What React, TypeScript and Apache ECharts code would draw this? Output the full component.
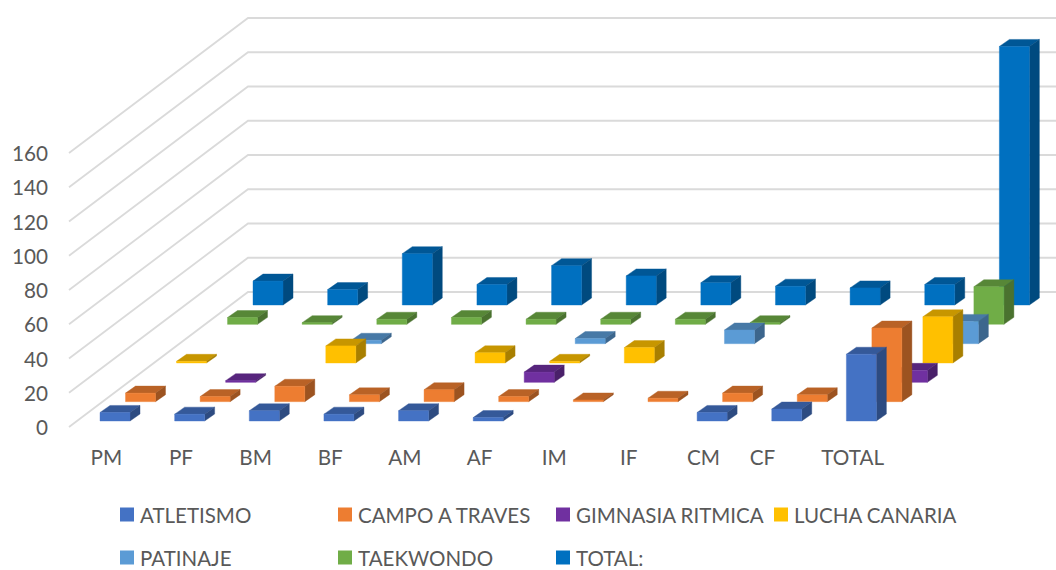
import React, { useEffect, useRef } from "react";
import * as echarts from "echarts";

const categories = ["PM", "PF", "BM", "BF", "AM", "AF", "IM", "IF", "CM", "CF", "TOTAL"];
const valueTicks = [0, 20, 40, 60, 80, 100, 120, 140, 160];

const atletismo = [5, 4, 6, 4, 6, 2, 0, 0, 5, 7, 39];
const campoATraves = [5, 3, 9, 4, 7, 3, 1, 2, 5, 4, 43];
const gimnasiaRitmica = [0, 1, 0, 0, 0, 6, 0, 0, 0, 0, 7];
const luchaCanaria = [1, 0, 10, 0, 6, 1, 9, 0, 0, 0, 27];
const patinaje = [0, 0, 2, 0, 0, 3, 0, 8, 0, 0, 13];
const taekwondo = [4, 1, 3, 4, 3, 3, 3, 1, 0, 0, 22];
const totalSerie = [14, 9, 30, 12, 23, 17, 13, 11, 10, 12, 151];

const seriesNames = ["ATLETISMO", "CAMPO A TRAVES", "GIMNASIA RITMICA", "LUCHA CANARIA", "PATINAJE", "TAEKWONDO", "TOTAL:"];
const seriesValues = [atletismo, campoATraves, gimnasiaRitmica, luchaCanaria, patinaje, taekwondo, totalSerie];
const seriesColors = ["#4472C4", "#ED7D31", "#7030A0", "#FFC000", "#5B9BD5", "#70AD47", "#0070C0"];
const legendPositions = [
  [120, 504], [338, 504], [556, 504], [774, 504],
  [120, 547], [338, 547], [556, 547],
];

const FONT = "Lato";
const FONT_SIZE = 20.7;
const LEGEND_FONT_SIZE = 20.5;
const TEXT = "#595959";
const STEP_X = 25.5;
const STEP_Y = 19.33;
const BAR_W = 30;
const SIDE_X = 10;
const SIDE_Y = 7;
const INSET_X = 8.7;
const INSET_Y = 6;
const WALL_X = 179;
const WALL_Y = 135;

function shade(hex: string, f: number) {
  const n = parseInt(hex.slice(1), 16);
  const r = Math.round(((n >> 16) & 255) * f);
  const g = Math.round(((n >> 8) & 255) * f);
  const b = Math.round((n & 255) * f);
  return `rgb(${r},${g},${b})`;
}

function poly(points: number[][], fill: string) {
  return {
    type: "polygon",
    shape: { points },
    style: { fill, stroke: fill, lineWidth: 0.4 },
  };
}

function barSeries(s: number) {
  const color = seriesColors[s];
  return {
    type: "custom",
    name: seriesNames[s],
    itemStyle: { color },
    encode: { x: 0, y: 1 },
    data: seriesValues[s].map((v, i) => [i, v]),
    renderItem: (_: any, api: any) => {
      const v = api.value(1);
      if (!v) return null;
      const base = api.coord([api.value(0), 0]);
      const top = api.coord([api.value(0), v]);
      const x0 = base[0] - BAR_W / 2 + INSET_X + s * STEP_X;
      const x1 = x0 + BAR_W;
      const y0 = base[1] - INSET_Y - s * STEP_Y;
      const y1 = top[1] - INSET_Y - s * STEP_Y;
      return {
        type: "group",
        children: [
          poly([[x0, y1], [x1, y1], [x1 + SIDE_X, y1 - SIDE_Y], [x0 + SIDE_X, y1 - SIDE_Y]], shade(color, 0.78)),
          poly([[x1, y0], [x1, y1], [x1 + SIDE_X, y1 - SIDE_Y], [x1 + SIDE_X, y0 - SIDE_Y]], shade(color, 0.66)),
          poly([[x0, y0], [x1, y0], [x1, y1], [x0, y1]], color),
        ],
      };
    },
  };
}

const wallSeries = {
  type: "custom",
  name: "wall",
  silent: true,
  encode: { x: 0, y: 1 },
  data: valueTicks.map((t) => [0, t]),
  renderItem: (_: any, api: any) => {
    const p = api.coord([0, api.value(1)]);
    const x = p[0] - api.size([1, 0])[0] / 2;
    return {
      type: "polyline",
      shape: {
        points: [
          [x, p[1]],
          [x + WALL_X, p[1] - WALL_Y],
          [api.getWidth(), p[1] - WALL_Y],
        ],
      },
      style: { fill: "none", stroke: "#DADADA", lineWidth: 1.8 },
    };
  },
};

export default function App() {
  const ref = useRef<HTMLDivElement>(null);
  useEffect(() => {
    const chart = echarts.init(ref.current!, undefined, { renderer: "svg" });
    chart.setOption({
      animation: false,
      backgroundColor: "#fff",
      grid: { left: 69, top: 153, width: 821, height: 274, containLabel: false },
      xAxis: {
        type: "category",
        data: categories,
        axisLine: { show: false },
        axisTick: { show: false },
        splitLine: { show: false },
        axisLabel: {
          interval: 0,
          margin: 19,
          fontFamily: FONT,
          fontSize: FONT_SIZE,
          color: TEXT,
          formatter: (v: string) => (v === "CF" ? "{cf|CF}" : v),
          rich: { cf: { fontFamily: FONT, fontSize: FONT_SIZE, color: TEXT, padding: [0, 31, 0, 0] } },
        },
      },
      yAxis: {
        type: "value",
        min: 0,
        max: 160,
        interval: 20,
        axisLine: { show: false },
        axisTick: { show: false },
        splitLine: { show: false },
        axisLabel: { margin: 21, fontFamily: FONT, fontSize: FONT_SIZE, color: TEXT },
      },
      legend: seriesNames.map((name, i) => ({
        data: [name],
        left: legendPositions[i][0],
        top: legendPositions[i][1],
        padding: 0,
        icon: "rect",
        itemWidth: 14,
        itemHeight: 14,
        itemGap: 0,
        selectedMode: false,
        textStyle: {
          fontFamily: FONT,
          fontSize: LEGEND_FONT_SIZE,
          color: TEXT,
          padding: [0, 0, 0, 1],
        },
      })),
      series: [wallSeries, ...[6, 5, 4, 3, 2, 1, 0].map(barSeries)],
    });
    return () => chart.dispose();
  }, []);
  return (
    <div
      ref={ref}
      style={{ position: "absolute", left: 0, top: 0, width: 1056, height: 570 }}
    />
  );
}
